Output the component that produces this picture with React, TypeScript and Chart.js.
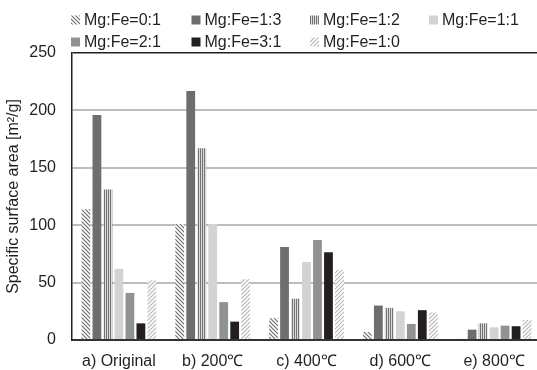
import React, { useEffect, useRef } from "react";
import { Chart, registerables } from "chart.js";

Chart.register(...registerables);

const categories = ["a) Original", "b) 200℃", "c) 400℃", "d) 600℃", "e) 800℃"];
const seriesNames = ["Mg:Fe=0:1", "Mg:Fe=1:3", "Mg:Fe=1:2", "Mg:Fe=1:1", "Mg:Fe=2:1", "Mg:Fe=3:1", "Mg:Fe=1:0"];
const mg01 = [114, 101, 19, 7, 1];
const mg13 = [196, 217, 81, 30, 9];
const mg12 = [131, 167, 36, 28, 14.5];
const mg11 = [62, 101, 68, 25, 11];
const mg21 = [41, 33, 87, 14, 12.5];
const mg31 = [14.5, 16, 76.5, 26, 12];
const mg10 = [52, 53, 61, 24, 17.5];
const yTicks = [0, 50, 100, 150, 200, 250];

const FONT = "'Liberation Sans', Arial, sans-serif";
const TEXT = "#231f20";

function makePattern(kind: string): CanvasPattern | string {
  const c = document.createElement("canvas");
  const ctx = c.getContext("2d")!;
  if (kind === "back") {
    c.width = 4; c.height = 4;
    ctx.fillStyle = "#ffffff"; ctx.fillRect(0, 0, 4, 4);
    ctx.strokeStyle = "#6a6a6a"; ctx.lineWidth = 1.1;
    ctx.beginPath();
    ctx.moveTo(-1, -1); ctx.lineTo(5, 5);
    ctx.moveTo(-1, 3); ctx.lineTo(1, 5);
    ctx.moveTo(3, -1); ctx.lineTo(5, 1);
    ctx.stroke();
  } else if (kind === "fwd") {
    c.width = 4; c.height = 4;
    ctx.fillStyle = "#ffffff"; ctx.fillRect(0, 0, 4, 4);
    ctx.strokeStyle = "#b5b5b5"; ctx.lineWidth = 1.1;
    ctx.beginPath();
    ctx.moveTo(-1, 5); ctx.lineTo(5, -1);
    ctx.moveTo(-1, 1); ctx.lineTo(1, -1);
    ctx.moveTo(3, 5); ctx.lineTo(5, 3);
    ctx.stroke();
  } else {
    c.width = 2; c.height = 2;
    ctx.fillStyle = "#dcdcdc"; ctx.fillRect(0, 0, 2, 2);
    ctx.fillStyle = "#727272"; ctx.fillRect(0, 0, 1, 2);
  }
  return ctx.createPattern(c, "repeat")!;
}

export default function App() {
  const ref = useRef<HTMLCanvasElement | null>(null);
  useEffect(() => {
    if (!ref.current) return;
    const fills: (CanvasPattern | string)[] = [
      makePattern("back"),
      "#6d6e70",
      makePattern("vert"),
      "#d3d3d5",
      "#919294",
      "#231f20",
      makePattern("fwd"),
    ];
    const values = [mg01, mg13, mg12, mg11, mg21, mg31, mg10];
    const legendPlugin = {
      id: "customLegend",
      afterDraw(chart: any) {
        const ctx = chart.ctx as CanvasRenderingContext2D;
        const colX = [71, 191.5, 310, 429];
        const rowY = [20, 42];
        ctx.save();
        ctx.font = `16px ${FONT}`;
        ctx.textBaseline = "middle";
        ctx.textAlign = "left";
        seriesNames.forEach((name, i) => {
          const x = colX[i % 4];
          const y = rowY[Math.floor(i / 4)];
          ctx.fillStyle = fills[i] as any;
          ctx.fillRect(x, y - 4.5, 9, 9);
          ctx.fillStyle = TEXT;
          ctx.fillText(name, x + 13, y + 1);
        });
        ctx.restore();
      },
    };
    const chart = new Chart(ref.current, {
      type: "bar",
      data: {
        labels: categories,
        datasets: seriesNames.map((n, i) => ({
          label: n,
          data: values[i],
          backgroundColor: fills[i] as any,
          borderWidth: 0,
          categoryPercentage: 0.82,
          barPercentage: 0.8,
        })),
      },
      options: {
        responsive: false,
        animation: false,
        devicePixelRatio: 1,
        layout: { padding: { top: 53, left: 0, right: 0, bottom: 0 } },
        plugins: { legend: { display: false }, tooltip: { enabled: false } },
        scales: {
          x: {
            grid: { display: false },
            border: { display: true, color: "#333333", width: 2 },
            ticks: { color: TEXT, font: { family: FONT, size: 16 }, padding: 4, maxRotation: 0 },
            afterFit(scale: any) { scale.height = 30; },
          },
          y: {
            min: 0,
            max: 250,
            afterBuildTicks(scale: any) { scale.ticks = yTicks.map((v) => ({ value: v })); },
            grid: {
              drawTicks: false,
              color: (c: any) => (c.tick && c.tick.value === 250 ? "#231f20" : c.tick && c.tick.value === 0 ? "rgba(0,0,0,0)" : "#bdbdbd"),
              lineWidth: (c: any) => (c.tick && c.tick.value === 250 ? 1.5 : 2),
            },
            border: { display: true, color: "#231f20", width: 1.5 },
            ticks: { color: TEXT, font: { family: FONT, size: 16 }, padding: 16 },
            title: {
              display: true,
              text: "Specific surface area [m²/g]",
              color: TEXT,
              font: { family: FONT, size: 16 },
              padding: { top: 4, bottom: 0 },
            },
            afterFit(scale: any) { scale.width = 72; },
          },
        },
      },
      plugins: [legendPlugin],
    });
    return () => chart.destroy();
  }, []);
  return (
    <div style={{ position: "fixed", left: 0, top: 0, width: 537, height: 370, overflow: "hidden", background: "#fff" }}>
      <canvas ref={ref} width={541} height={370} style={{ display: "block" }} />
    </div>
  );
}
